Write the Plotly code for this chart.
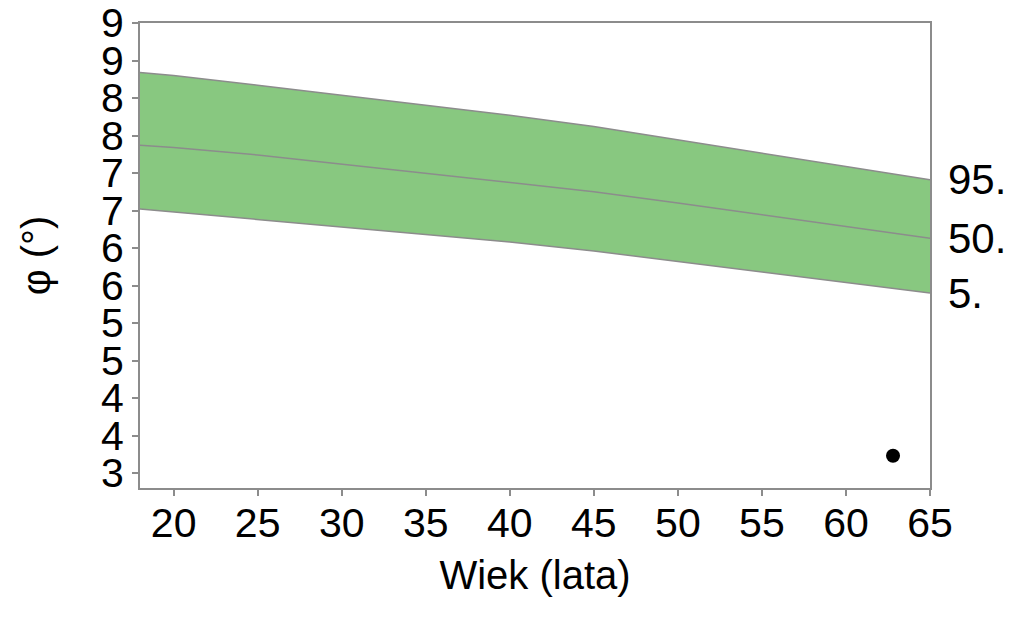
import plotly.graph_objects as go

ages = [18, 20, 25, 30, 35, 40, 45, 50, 55, 60, 65]
p95 = [8.34, 8.30, 8.17, 8.04, 7.91, 7.77, 7.62, 7.44, 7.27, 7.09, 6.91]
p50 = [7.37, 7.34, 7.24, 7.12, 7.00, 6.88, 6.75, 6.60, 6.44, 6.28, 6.13]
p5 = [6.52, 6.48, 6.38, 6.28, 6.18, 6.08, 5.96, 5.82, 5.68, 5.54, 5.40]
band_labels = ["95.", "50.", "5."]
point_x = [62.8]
point_y = [3.23]

FILL = "rgb(136,200,128)"
LINE = "#8c8c8c"
FONT = "Liberation Sans, Arial, sans-serif"

fig = go.Figure()
fig.add_trace(go.Scatter(x=ages, y=p5, mode="lines", line=dict(color=LINE, width=1.5),
                         showlegend=False, hoverinfo="skip"))
fig.add_trace(go.Scatter(x=ages, y=p95, mode="lines", line=dict(color=LINE, width=1.5),
                         fill="tonexty", fillcolor=FILL, showlegend=False, hoverinfo="skip"))
fig.add_trace(go.Scatter(x=ages, y=p50, mode="lines", line=dict(color=LINE, width=1.5),
                         showlegend=False, hoverinfo="skip"))
fig.add_trace(go.Scatter(x=point_x, y=point_y, mode="markers",
                         marker=dict(color="black", size=14), showlegend=False))

for lab, series in zip(band_labels, [p95, p50, p5]):
    fig.add_annotation(x=ages[-1], y=series[-1], text=lab, showarrow=False,
                       xanchor="left", yanchor="middle", xshift=16,
                       font=dict(size=42, color="black", family=FONT))

axis_common = dict(showline=True, mirror=True, linecolor=LINE, linewidth=2,
                   ticks="outside", ticklen=6, tickcolor=LINE, tickwidth=1.5,
                   showgrid=False, zeroline=False, automargin=False,
                   tickfont=dict(size=41, color="black", family=FONT))

fig.update_xaxes(range=[18, 65], tick0=20, dtick=5, ticklabelstandoff=-8,
                 title=dict(text="Wiek (lata)", font=dict(size=40, color="black", family=FONT), standoff=16),
                 **axis_common)
fig.update_yaxes(range=[2.8, 9], tick0=3, dtick=0.5, tickformat=".0f",
                 title=dict(text="φ (°)", font=dict(size=40, color="black", family=FONT), standoff=38),
                 **axis_common)

fig.update_layout(width=1023, height=628, margin=dict(l=140, r=93, t=23, b=140),
                  plot_bgcolor="white", paper_bgcolor="white", font=dict(family=FONT))

fig.write_html("out.html")
